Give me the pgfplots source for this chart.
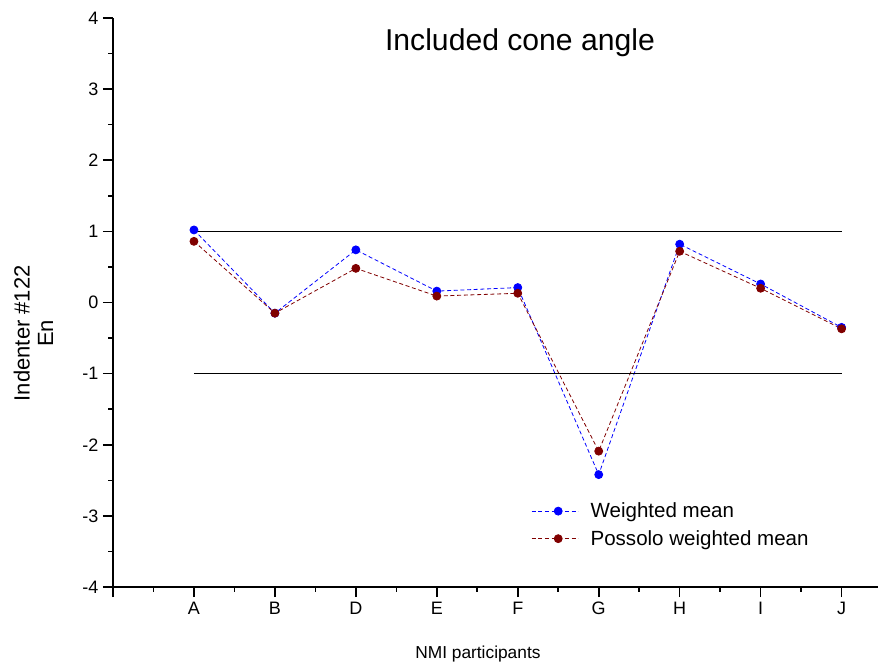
\documentclass[border=0pt]{standalone}
\usepackage{pgfplots}
\pgfplotsset{compat=1.18}
\usepackage{fontspec}
\setmainfont{Liberation Sans}
\begin{document}
\begin{tikzpicture}
\useasboundingbox (0,0) rectangle (658.5pt,501pt);
\begin{axis}[
  at={(84.75pt,60.75pt)}, anchor=south west,
  scale only axis, width=573.75pt, height=426.75pt,
  xmin=0, xmax=9.45, ymin=-4, ymax=4,
  axis x line=bottom, axis y line=left,
  axis line style={-, line width=1.2pt, black},
  xtick={0,1,2,3,4,5,6,7,8,9},
  xticklabels={,A,B,D,E,F,G,H,I,J},
  ytick={-4,-3,-2,-1,0,1,2,3,4},
  minor x tick num=1, minor y tick num=1,
  tick align=outside,
  major tick length=7.5pt, minor tick length=3.5pt,
  every tick/.style={black, line width=1.2pt},
  tick label style={font=\fontsize{13.5}{15}\selectfont},
  /pgf/number format/assume math mode=true,
  xlabel={NMI participants},
  ylabel={Indenter \#122\\En},
  xlabel style={font=\fontsize{13}{15}\selectfont, at={(axis description cs:0.477,-0.118)}, anchor=center},
  ylabel style={font=\fontsize{16.5}{17.5}\selectfont, align=center, at={(axis description cs:-0.104,0.446)}, anchor=center},
  legend style={draw=none, fill=none, at={(axis description cs:0.541,0.158)}, anchor=north west,
    font=\fontsize{15.4}{18}\selectfont, row sep=4pt,
    /tikz/every odd column/.append style={column sep=7pt}},
  legend cell align=left,
  legend image code/.code={\draw[#1, mark repeat=2, mark phase=2] plot coordinates {(0pt,0pt) (20pt,0pt) (35pt,0pt)};},
  clip=false,
]
\addplot[blue, densely dashed, line width=0.6pt, mark=*, mark size=3pt, mark options={solid, fill=blue, draw=blue}]
  coordinates {(1,1.02) (2,-0.15) (3,0.74) (4,0.16) (5,0.21) (6,-2.42) (7,0.82) (8,0.26) (9,-0.35)};
\addlegendentry{Weighted mean}
\addplot[color={rgb,255:red,128;green,0;blue,0}, densely dashed, line width=0.6pt, mark=*, mark size=3pt,
  mark options={solid, fill={rgb,255:red,128;green,0;blue,0}}]
  coordinates {(1,0.86) (2,-0.15) (3,0.48) (4,0.09) (5,0.13) (6,-2.09) (7,0.72) (8,0.20) (9,-0.37)};
\addlegendentry{Possolo weighted mean}
\addplot[black, line width=0.6pt, forget plot] coordinates {(1,1) (9,1)};
\addplot[black, line width=0.6pt, forget plot] coordinates {(1,-1) (9,-1)};
\node[font=\fontsize{22.6}{26}\selectfont] at (axis description cs:0.532,0.956) {Included cone angle};
\end{axis}
\end{tikzpicture}
\end{document}
